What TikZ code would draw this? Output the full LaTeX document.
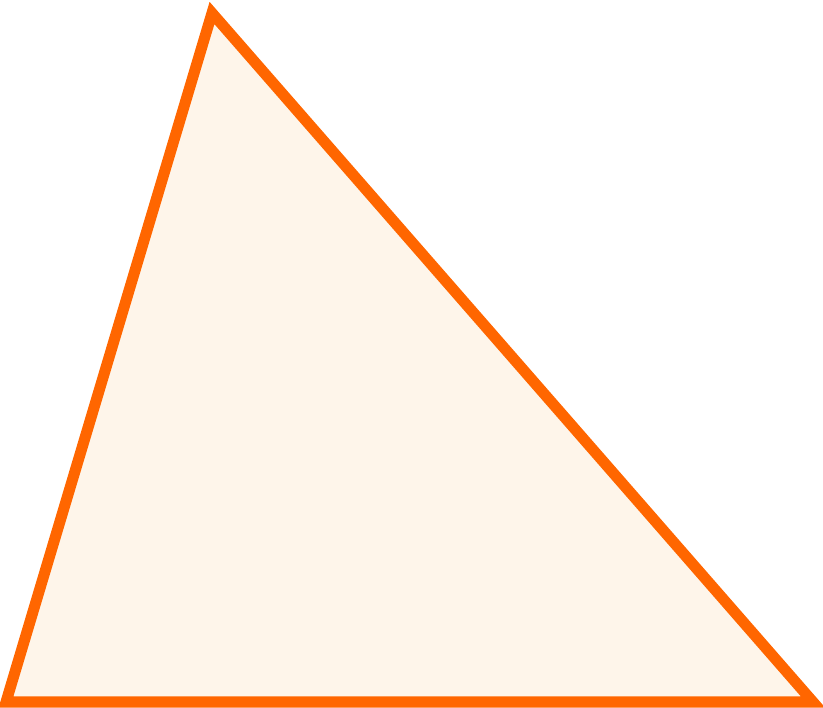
\documentclass[tikz,border=0pt]{standalone}
\usepackage{tikz}

\definecolor{edgeorange}{HTML}{FF6600}
\definecolor{cream}{HTML}{FEF5EA}

\begin{document}
\begin{tikzpicture}[x=1pt, y=-1pt]
\useasboundingbox (0, 0) rectangle (823, 708);
\clip (0, 0) rectangle (823, 708);
\coordinate (apex) at (212, 13);
\coordinate (left) at (6, 702);
\coordinate (right) at (813, 702);
\draw[edgeorange, fill = cream, line width = 11pt, line join = miter]
	(apex) -- (right) -- (left) -- cycle;
\end{tikzpicture}
\end{document}
